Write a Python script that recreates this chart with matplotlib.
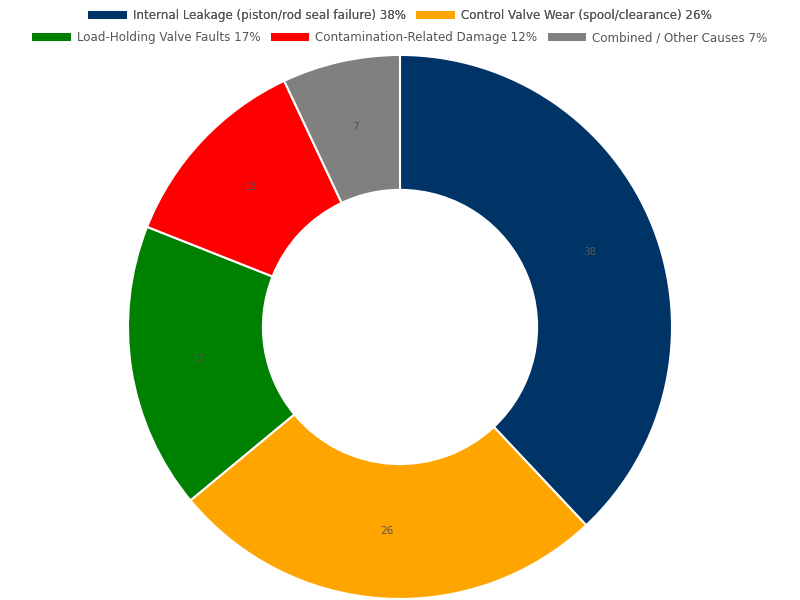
import matplotlib.pyplot as plt
from matplotlib.patches import Patch

labels = [
    "Internal Leakage (piston/rod seal failure)",
    "Control Valve Wear (spool/clearance)",
    "Load-Holding Valve Faults",
    "Contamination-Related Damage",
    "Combined / Other Causes",
]
values = [38, 26, 17, 12, 7]
colors = ["#003366", "#ffa500", "#008000", "#ff0000", "#808080"]

fig = plt.figure(figsize=(8, 6), dpi=100)
ax = fig.add_axes([0.16, 0.0017, 0.68, 0.9067])
wedges, texts = ax.pie(
    values, colors=colors, startangle=90, counterclock=False,
    labels=[str(v) for v in values], labeldistance=0.752,
    wedgeprops=dict(width=0.496, edgecolor="white", linewidth=1.5),
    textprops=dict(color="#555555", fontsize=7.5, ha="center", va="center"),
)
ax.set_aspect("equal")
ax.set_xlim(-1, 1)
ax.set_ylim(-1, 1)

handles = [Patch(facecolor=c, edgecolor="none") for c in colors]
names = [f"{l} {v}%" for l, v in zip(labels, values)]
common = dict(frameon=False, fontsize=8.6, handlelength=3.2, handleheight=0.7,
              handletextpad=0.5, columnspacing=0.9, labelcolor="#555555",
              loc="center", borderaxespad=0)
leg1 = fig.legend(handles[:2], names[:2], ncol=2, bbox_to_anchor=(0.5, 0.974), **common)
fig.add_artist(leg1)
fig.legend(handles[2:], names[2:], ncol=3, bbox_to_anchor=(0.5, 0.937), **common)

fig.savefig("out.png", dpi=100)
